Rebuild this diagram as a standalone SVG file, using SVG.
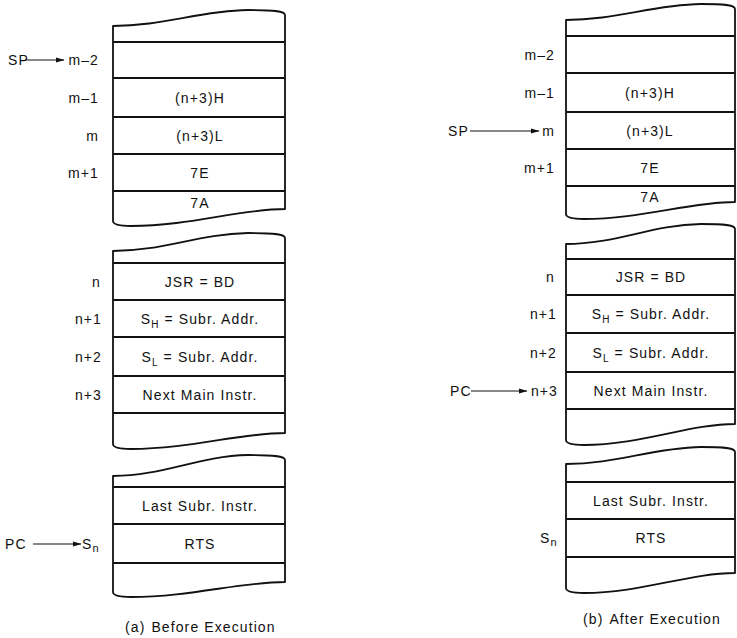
<svg xmlns="http://www.w3.org/2000/svg" width="737" height="638" viewBox="0 0 737 638">
<style>
.blk{fill:none;stroke:#111;stroke-width:1.8;stroke-linejoin:round}
.row{stroke:#111;stroke-width:1.8}
text{font-family:"Liberation Sans",Arial,sans-serif;font-size:14px;fill:#111;letter-spacing:1.1px}
.c{text-anchor:middle}
.r{text-anchor:end}
.arr{stroke:#111;stroke-width:1.1;fill:none}
</style>
<defs>
<marker id="ah" markerUnits="userSpaceOnUse" markerWidth="9" markerHeight="6" refX="8" refY="3" orient="auto">
<path d="M0,0.5 L8.5,3 L0,5.5 z" fill="#111"/>
</marker>
</defs>
<rect width="737" height="638" fill="#fff"/>

<!-- Panel (a) -->
<g id="a-stack-top">
<path class="blk" d="M113,221 L113,26 C163,26 198,11 248,10 C273,10 285,11 285,15 L285,209 C240,209 190,226 131,226 Q113,226 113,221 Z"/>
<line class="row" x1="113" y1="42" x2="285" y2="42"/>
<line class="row" x1="113" y1="78" x2="285" y2="78"/>
<line class="row" x1="113" y1="117" x2="285" y2="117"/>
<line class="row" x1="113" y1="154" x2="285" y2="154"/>
<line class="row" x1="113" y1="191" x2="285" y2="191"/>
<text class="c" x="200" y="103">(n+3)H</text>
<text class="c" x="200" y="141">(n+3)L</text>
<text class="c" x="200" y="178">7E</text>
<text class="c" x="200" y="208">7A</text>
</g>
<g id="a-stack-mid">
<path class="blk" d="M113,444 L113,251 C163,251 198,234 248,233 C273,233 285,234 285,238 L285,433 C240,433 190,449 131,449 Q113,449 113,444 Z"/>
<line class="row" x1="113" y1="263" x2="285" y2="263"/>
<line class="row" x1="113" y1="300" x2="285" y2="300"/>
<line class="row" x1="113" y1="337" x2="285" y2="337"/>
<line class="row" x1="113" y1="376" x2="285" y2="376"/>
<line class="row" x1="113" y1="413" x2="285" y2="413"/>
<text class="c" x="200" y="287">JSR = BD</text>
<text class="c" x="200" y="324">S<tspan font-size="10" dy="4">H</tspan><tspan dy="-4"> = Subr. Addr.</tspan></text>
<text class="c" x="200" y="362">S<tspan font-size="10" dy="4">L</tspan><tspan dy="-4"> = Subr. Addr.</tspan></text>
<text class="c" x="200" y="400">Next Main Instr.</text>
</g>
<g id="a-stack-bot">
<path class="blk" d="M113,592 L113,476 C163,476 198,456 248,455 C273,455 285,456 285,460 L285,582 C240,582 190,597 131,597 Q113,597 113,592 Z"/>
<line class="row" x1="113" y1="487" x2="285" y2="487"/>
<line class="row" x1="113" y1="524" x2="285" y2="524"/>
<line class="row" x1="113" y1="563" x2="285" y2="563"/>
<text class="c" x="200" y="511">Last Subr. Instr.</text>
<text class="c" x="200" y="549">RTS</text>
</g>
<g id="a-labels">
<text x="8" y="65">SP</text>
<text class="r" x="99" y="65">m–2</text>
<text class="r" x="99" y="103">m–1</text>
<text class="r" x="99" y="141">m</text>
<text class="r" x="99" y="178">m+1</text>
<text class="r" x="101" y="287">n</text>
<text class="r" x="102" y="324">n+1</text>
<text class="r" x="102" y="362">n+2</text>
<text class="r" x="102" y="400">n+3</text>
<text x="5" y="549">PC</text>
<text x="82" y="549">S<tspan font-size="11" dy="3">n</tspan></text>
<text x="125" y="632">(a)<tspan dx="6">Before Execution</tspan></text>
</g>

<!-- Panel (b) -->
<g id="b-stack-top">
<path class="blk" d="M566,214 L566,20 C616,20 651,5 701,4 C725,4 735,5 735,9 L735,202 C690,202 640,219 584,219 Q566,219 566,214 Z"/>
<line class="row" x1="566" y1="36" x2="735" y2="36"/>
<line class="row" x1="566" y1="73" x2="735" y2="73"/>
<line class="row" x1="566" y1="112" x2="735" y2="112"/>
<line class="row" x1="566" y1="149" x2="735" y2="149"/>
<line class="row" x1="566" y1="186" x2="735" y2="186"/>
<text class="c" x="650" y="98">(n+3)H</text>
<text class="c" x="650" y="136">(n+3)L</text>
<text class="c" x="650" y="173">7E</text>
<text class="c" x="650" y="202">7A</text>
</g>
<g id="b-stack-mid">
<path class="blk" d="M566,440 L566,244 C616,244 651,225 701,224 C725,224 735,225 735,229 L735,424 C690,424 640,445 584,445 Q566,445 566,440 Z"/>
<line class="row" x1="566" y1="259" x2="735" y2="259"/>
<line class="row" x1="566" y1="295" x2="735" y2="295"/>
<line class="row" x1="566" y1="333" x2="735" y2="333"/>
<line class="row" x1="566" y1="372" x2="735" y2="372"/>
<line class="row" x1="566" y1="409" x2="735" y2="409"/>
<text class="c" x="651" y="282">JSR = BD</text>
<text class="c" x="651" y="319">S<tspan font-size="10" dy="4">H</tspan><tspan dy="-4"> = Subr. Addr.</tspan></text>
<text class="c" x="651" y="358">S<tspan font-size="10" dy="4">L</tspan><tspan dy="-4"> = Subr. Addr.</tspan></text>
<text class="c" x="651" y="396">Next Main Instr.</text>
</g>
<g id="b-stack-bot">
<path class="blk" d="M566,588 L566,464 C616,464 651,448 701,447 C725,447 735,448 735,452 L735,573 C690,573 640,593 584,593 Q566,593 566,588 Z"/>
<line class="row" x1="566" y1="482" x2="735" y2="482"/>
<line class="row" x1="566" y1="519" x2="735" y2="519"/>
<line class="row" x1="566" y1="557" x2="735" y2="557"/>
<text class="c" x="651" y="506">Last Subr. Instr.</text>
<text class="c" x="651" y="543">RTS</text>
</g>
<g id="b-labels">
<text class="r" x="555" y="60">m–2</text>
<text class="r" x="555" y="98">m–1</text>
<text x="448" y="136">SP</text>
<text class="r" x="555" y="136">m</text>
<text class="r" x="555" y="173">m+1</text>
<text class="r" x="555" y="282">n</text>
<text class="r" x="557" y="319">n+1</text>
<text class="r" x="557" y="358">n+2</text>
<text x="450" y="396">PC</text>
<text class="r" x="558" y="396">n+3</text>
<text x="540" y="543">S<tspan font-size="11" dy="3">n</tspan></text>
<text x="583" y="624">(b)<tspan dx="6">After Execution</tspan></text>
</g>

<g id="connectors">
<line class="arr" x1="25" y1="60" x2="64" y2="60" marker-end="url(#ah)"/>
<line class="arr" x1="33" y1="544" x2="81" y2="544" marker-end="url(#ah)"/>
<line class="arr" x1="470" y1="131" x2="539" y2="131" marker-end="url(#ah)"/>
<line class="arr" x1="471" y1="391" x2="527" y2="391" marker-end="url(#ah)"/>
</g>
</svg>
